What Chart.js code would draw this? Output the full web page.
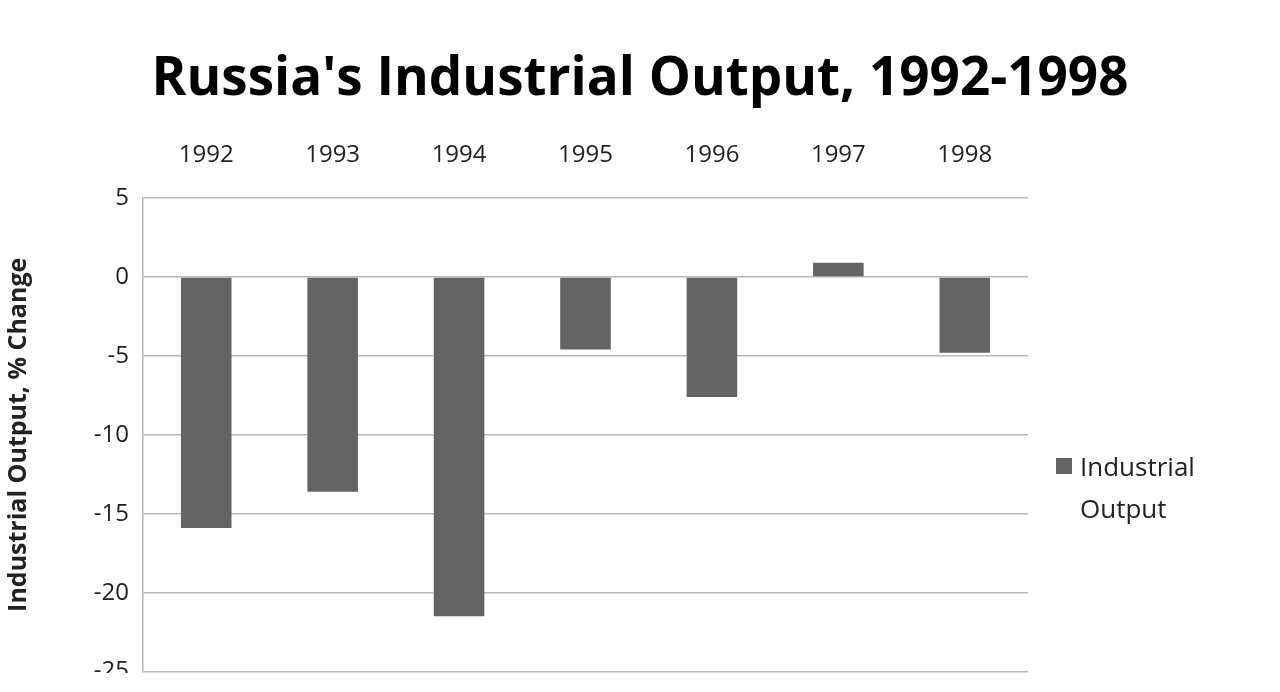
<!DOCTYPE html>
<html>
<head>
<meta charset="utf-8">
<script src="https://cdn.jsdelivr.net/npm/chart.js@4/dist/chart.umd.min.js"></script>
<style>
  html, body { margin: 0; background: #fff; overflow: hidden; }
  #wrap { position: relative; width: 1280px; height: 673px; overflow: hidden; }
  #title { position: absolute; top: 38px; left: 0; width: 1280px; text-align: center;
    font: bold 53px "Open Sans", sans-serif; color: #000; }
  #legend { position: absolute; left: 1056px; top: 445px; font: 26px "Open Sans", sans-serif; color: #222; line-height: 42px; }
  #legend .box { display: inline-block; width: 16px; height: 16px; background: #646464; margin-right: 8px; vertical-align: 2px; }
  #legend .l2 { padding-left: 24px; }
  canvas { position: absolute; left: 0; top: 0; }
</style>
</head>
<body>
<div id="wrap">
  <div id="title">Russia's Industrial Output, 1992-1998</div>
  <canvas id="c" width="1280" height="700" style="width:1280px;height:700px"></canvas>
  <div id="legend"><div><span class="box"></span>Industrial</div><div class="l2">Output</div></div>
</div>
<script>
const years = ['1992', '1993', '1994', '1995', '1996', '1997', '1998'];
const outputChange = [-15.9, -13.6, -21.5, -4.6, -7.6, 0.9, -4.8];
const seriesName = 'Industrial Output';

new Chart(document.getElementById('c'), {
  type: 'bar',
  data: {
    labels: years,
    datasets: [{
      label: seriesName,
      data: outputChange,
      backgroundColor: '#646464',
      barPercentage: 0.4,
      categoryPercentage: 1,
    }],
  },
  options: {
    responsive: false,
    animation: false,
    layout: { padding: { top: 130, right: 252, bottom: 28, left: 0 } },
    plugins: { legend: { display: false }, tooltip: { enabled: false } },
    scales: {
      x: {
        position: 'top',
        grid: { display: false, drawTicks: false },
        border: { display: false },
        ticks: { color: '#222', font: { family: 'Open Sans', size: 24 }, padding: 28 },
        afterFit(scale) { scale.height = 68; },
      },
      y: {
        min: -25, max: 5,
        ticks: { stepSize: 5, color: '#222', font: { family: 'Open Sans', size: 24 }, padding: 14 },
        grid: { color: '#b8b8b8', lineWidth: 1.5, drawTicks: false },
        border: { color: '#b8b8b8', width: 1.5 },
        title: { display: true, text: 'Industrial Output, % Change', color: '#222',
          font: { family: 'Open Sans', size: 25, weight: 'bold' } },
        afterFit(scale) { scale.width = 143; },
      },
    },
  },
});
</script>
</body>
</html>
